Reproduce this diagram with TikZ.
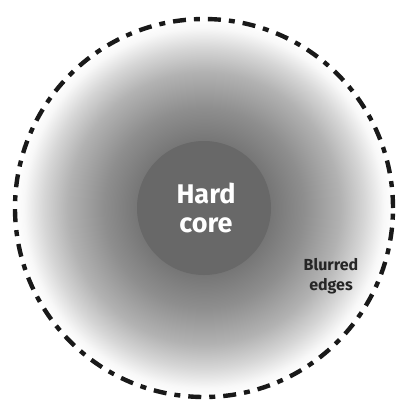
\documentclass[tikz,border=0pt]{standalone}
\usepackage{fontspec}
\setmainfont{Fira Sans}
\definecolor{cA}{HTML}{6E6E6E}
\definecolor{cB}{HTML}{767676}
\definecolor{cC}{HTML}{8E8E8E}
\definecolor{cD}{HTML}{B2B2B2}
\definecolor{cE}{HTML}{D6D6D6}
\definecolor{cF}{HTML}{F8F8F8}
\definecolor{corefill}{HTML}{686868}
\definecolor{labeltext}{HTML}{262626}
\pgfdeclareradialshading{blurring}{\pgfpoint{0bp}{0bp}}{%
  color(0bp)=(cA); color(8.86bp)=(cB); color(13.2bp)=(cC);
  color(18bp)=(cD); color(21.2bp)=(cE); color(23.8bp)=(cF);
  color(25bp)=(white); color(50bp)=(white)}
\tikzset{
  rim/.style={line width=4.4pt, draw=black!90, dash pattern=on 13pt off 8pt on 6pt off 8pt},
  coretext/.style={font=\fontsize{27}{29}\selectfont\bfseries, text=white, inner sep=0pt, anchor=base},
  edgetext/.style={font=\fontsize{16}{20}\selectfont\bfseries, text=labeltext, inner sep=0pt, anchor=base},
}
\begin{document}
\begin{tikzpicture}[x=1pt, y=-1pt]
\useasboundingbox (0,0) rectangle (398,400);
\coordinate (c) at (204,208);
\shade[shading=blurring] (c) circle (189pt);
\fill[corefill] (c) circle (67pt);
\draw[rim] (c) circle (189pt);
\node[coretext] (hard) at (206,203) {Hard};
\node[coretext] (core) at (206,232) {core};
\node[edgetext] (blurred) at (331,270) {Blurred};
\node[edgetext] (edges) at (331,290) {edges};
\end{tikzpicture}
\end{document}
